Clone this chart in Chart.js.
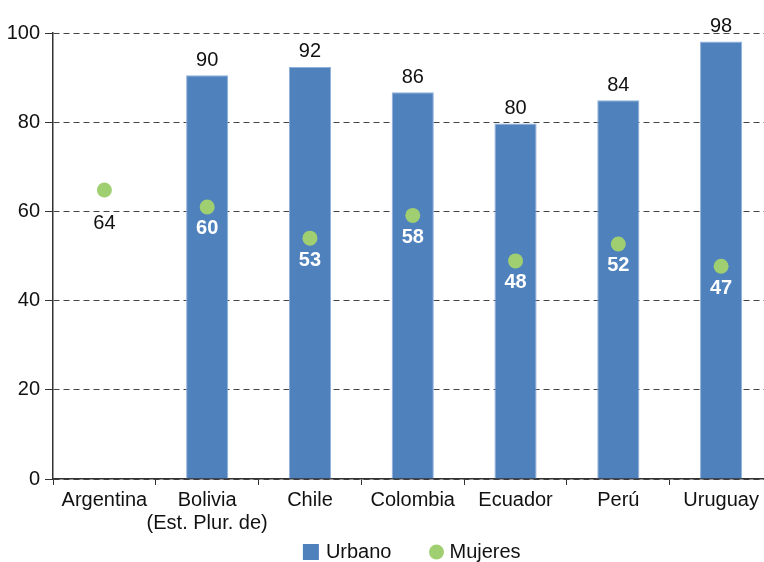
<!DOCTYPE html>
<html>
<head>
<meta charset="utf-8">
<script src="https://cdn.jsdelivr.net/npm/chart.js@4.4.0/dist/chart.umd.min.js"></script>
<style>
  html, body { margin: 0; padding: 0; background: #fff; overflow: hidden; }
  #wrap { width: 764px; height: 562px; overflow: hidden; }
</style>
</head>
<body>
<div id="wrap"><canvas id="chart" width="780" height="562"></canvas></div>
<script>
const categories = ['Argentina', ['Bolivia', '(Est. Plur. de)'], 'Chile', 'Colombia', 'Ecuador', 'Perú', 'Uruguay'];
const urbano = [null, 90.5, 92.4, 86.7, 79.7, 84.9, 98.1];
const urbanoLabels = ['', '90', '92', '86', '80', '84', '98'];
const mujeres = [64.8, 61.0, 54.0, 59.1, 48.9, 52.7, 47.7];
const mujeresLabels = ['64', '60', '53', '58', '48', '52', '47'];
const yTicks = [0, 20, 40, 60, 80, 100];

const FONT = 'Liberation Sans, Arial, sans-serif';
const BLUE = '#4f81bd';
const GREEN = '#9fcf70';

// value labels above the bars and under the points
const valueLabels = {
  id: 'valueLabels',
  afterDatasetsDraw(chart) {
    const ctx = chart.ctx;
    ctx.save();
    ctx.textAlign = 'center';
    ctx.textBaseline = 'middle';
    const bars = chart.getDatasetMeta(0).data;
    bars.forEach((el, i) => {
      if (urbano[i] == null) return;
      ctx.font = '20px ' + FONT;
      ctx.fillStyle = '#111';
      ctx.fillText(urbanoLabels[i], el.x, el.y - 15);
    });
    const pts = chart.getDatasetMeta(1).data;
    pts.forEach((el, i) => {
      if (urbano[i] == null) {
        ctx.font = '20px ' + FONT;
        ctx.fillStyle = '#111';
        ctx.fillText(mujeresLabels[i], el.x, el.y + 33);
      } else {
        ctx.font = 'bold 20px ' + FONT;
        ctx.fillStyle = '#fff';
        ctx.fillText(mujeresLabels[i], el.x, el.y + 22);
      }
    });
    ctx.restore();
  }
};

// legend drawn under the plot, centred on the chart area
const bottomLegend = {
  id: 'bottomLegend',
  afterDraw(chart) {
    const ctx = chart.ctx;
    const area = chart.chartArea;
    ctx.save();
    ctx.font = '20px ' + FONT;
    ctx.textBaseline = 'middle';
    ctx.textAlign = 'left';
    const names = chart.data.datasets.map(d => d.label);
    const box = 16, gap = 7, spacing = 37;
    const w0 = ctx.measureText(names[0]).width;
    const w1 = ctx.measureText(names[1]).width;
    const total = box + gap + w0 + spacing + box + gap + w1;
    let x = (area.left + area.right) / 2 - total / 2;
    const cy = 552;
    ctx.fillStyle = BLUE;
    ctx.fillRect(x, cy - 8, box, box);
    ctx.fillStyle = '#111';
    ctx.fillText(names[0], x + box + gap, cy);
    x += box + gap + w0 + spacing;
    ctx.fillStyle = GREEN;
    ctx.beginPath();
    ctx.arc(x + box / 2, cy, 7.5, 0, Math.PI * 2);
    ctx.fill();
    ctx.fillStyle = '#111';
    ctx.fillText(names[1], x + box + gap - 2, cy);
    ctx.restore();
  }
};

new Chart(document.getElementById('chart'), {
  data: {
    labels: categories,
    datasets: [
      {
        type: 'bar',
        label: 'Urbano',
        data: urbano,
        backgroundColor: BLUE,
        borderColor: '#8fb0dc',
        borderWidth: 1,
        barPercentage: 0.41,
        categoryPercentage: 1,
        order: 2
      },
      {
        type: 'line',
        label: 'Mujeres',
        data: mujeres,
        showLine: false,
        pointRadius: 7.5,
        pointBackgroundColor: GREEN,
        pointBorderWidth: 0,
        order: 1
      }
    ]
  },
  options: {
    responsive: false,
    animation: false,
    layout: { padding: { top: 33, right: 1, bottom: 25, left: 0 } },
    plugins: {
      legend: { display: false },
      tooltip: { enabled: false }
    },
    scales: {
      x: {
        offset: true,
        grid: { drawOnChartArea: false, drawTicks: true, tickLength: 6, color: '#333', offset: true },
        border: { color: '#333', width: 1.5 },
        ticks: { color: '#111', font: { family: FONT, size: 20, lineHeight: 1.15 }, padding: 4, maxRotation: 0, autoSkip: false },
        afterFit(scale) { scale.height = 58; }
      },
      y: {
        min: 0,
        max: 100,
        afterBuildTicks(scale) { scale.ticks = yTicks.map(v => ({ value: v })); },
        grid: { color: '#444', tickColor: '#333', tickLength: 8, lineWidth: 1 },
        border: { color: '#333', width: 1.5, dash: [6, 4] },
        ticks: { color: '#111', font: { family: FONT, size: 20 }, padding: 5 },
        afterFit(scale) { scale.width = 53; }
      }
    }
  },
  plugins: [valueLabels, bottomLegend]
});
</script>
</body>
</html>
